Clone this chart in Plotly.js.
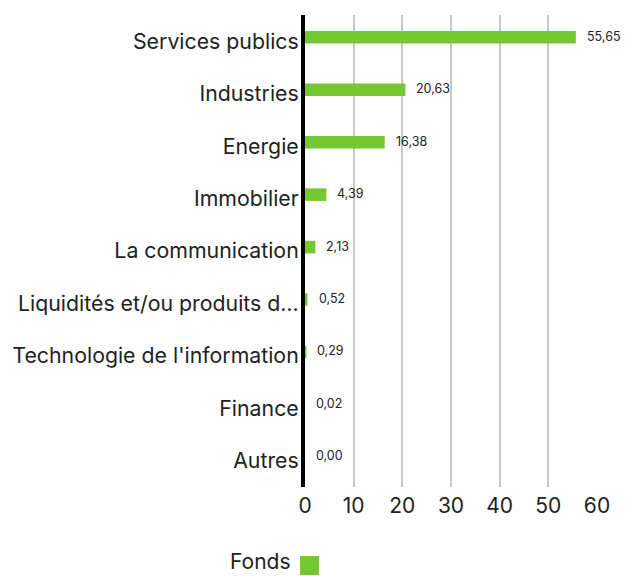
<!DOCTYPE html>
<html>
<head>
<meta charset="utf-8">
<script src="https://cdn.plot.ly/plotly-3.0.1.min.js"></script>
<style>html,body{margin:0;padding:0;background:#fff;}#chart{width:625px;height:576px;}</style>
</head>
<body>
<div id="chart"></div>
<script>
const categories = ["Services publics", "Industries", "Energie", "Immobilier", "La communication", "Liquidités et/ou produits d…", "Technologie de l'information", "Finance", "Autres"];
const values = [55.65, 20.63, 16.38, 4.39, 2.13, 0.52, 0.29, 0.02, 0.00];
const seriesName = "Fonds";
const xTicks = [0, 10, 20, 30, 40, 50, 60];

const FONT = "Inter, 'Noto Sans', sans-serif";
const GREEN = "#76C832";

const fmt = v => v.toFixed(2).replace('.', ',');

const trace = {
  type: 'bar',
  orientation: 'h',
  x: values,
  y: categories,
  name: seriesName,
  marker: {color: GREEN},
  width: 0.24,
  offset: -0.195,
  hoverinfo: 'x+y',
  showlegend: false
};

const annotations = values.map((v, i) => ({
  x: v, y: categories[i], xref: 'x', yref: 'y',
  text: fmt(v), showarrow: false,
  xanchor: 'left', yanchor: 'middle',
  xshift: 9, yshift: 5,
  font: {family: FONT, size: 12.5, color: '#222'}
}));

// legend drawn manually: label on the left, swatch on the right
annotations.push({
  xref: 'paper', yref: 'paper', x: -0.04, y: -0.1875,
  xanchor: 'right', yanchor: 'bottom', showarrow: false,
  text: seriesName,
  font: {family: FONT, size: 21, color: '#222'}
});

const shapes = [{
  type: 'rect', xref: 'paper', yref: 'paper',
  x0: -0.0171, x1: 0.0479, y0: -0.1865, y1: -0.1462,
  fillcolor: GREEN, line: {width: 0}
}];

const layout = {
  width: 625, height: 576,
  margin: {l: 305, r: 28, t: 15, b: 89},
  paper_bgcolor: '#fff', plot_bgcolor: '#fff',
  font: {family: FONT, color: '#222'},
  xaxis: {
    range: [0, 60],
    tickvals: xTicks,
    ticktext: xTicks.map(String),
    showgrid: true, gridcolor: '#c8c8c8', gridwidth: 2,
    zeroline: false, showline: false, ticks: '',
    tickfont: {family: FONT, size: 21, color: '#222'},
    ticklabelstandoff: 4,
    fixedrange: true,
    automargin: false
  },
  yaxis: {
    type: 'category',
    autorange: 'reversed',
    range: [8.5, -0.5],
    showgrid: false, zeroline: false,
    showline: true, linecolor: '#000', linewidth: 4,
    ticks: '',
    tickfont: {family: FONT, size: 21.3, color: '#222'},
    ticklabelstandoff: -2,
    fixedrange: true,
    automargin: false
  },
  showlegend: false,
  annotations: annotations,
  shapes: shapes,
  bargap: 0.5
};

Plotly.newPlot('chart', [trace], layout, {displayModeBar: false, staticPlot: true});
</script>
</body>
</html>
